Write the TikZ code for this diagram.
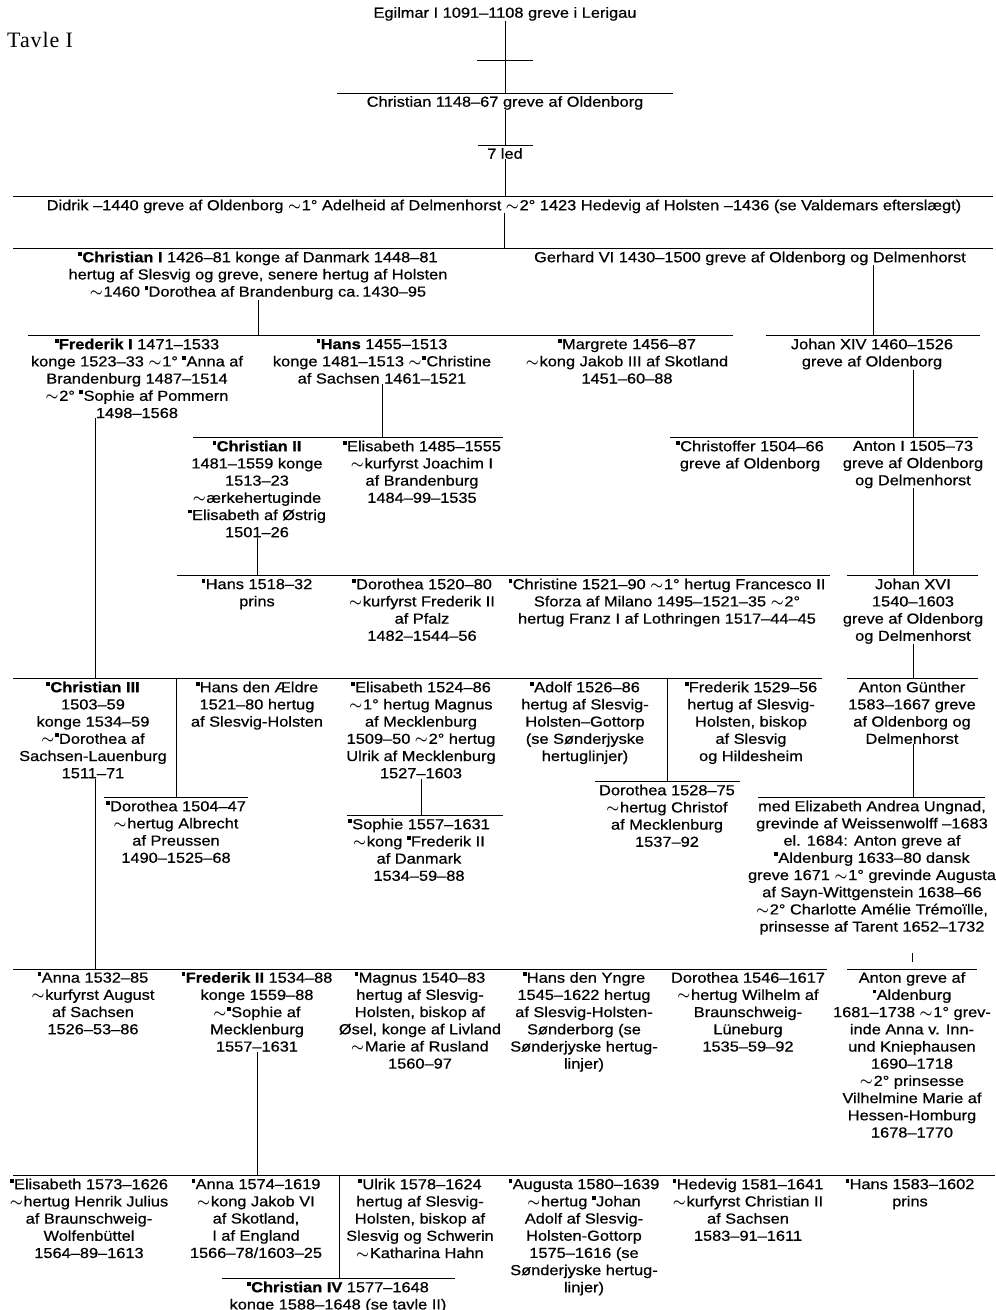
\documentclass[tikz,border=0pt]{standalone}
\usepackage{fontspec}
\setmainfont{Liberation Sans}[FakeStretch=1.13, UprightFeatures={FakeBold=0.6}, BoldFeatures={FakeBold=0.9}]
\newfontfamily\tavlefont{Liberation Serif}[LetterSpace=4]
\newcommand\mk{\rule[6.6pt]{3.8pt}{3.8pt}\hspace{0.3pt}}
\newcommand\ti{\ensuremath{\boldsymbol{\sim}}\hspace{0.8pt}}
\usepackage{amsmath}
\usepackage{bm}
\begin{document}
\begin{tikzpicture}[x=1pt,y=-1pt,
  person/.style={anchor=north,align=center,inner sep=0pt,font=\fontsize{14.5}{17.2}\selectfont},
  bar/.style={line width=0.9pt}]
\useasboundingbox (0,0) rectangle (996,1310);

\node[anchor=west,inner sep=0pt,font=\tavlefont\fontsize{22}{24}\selectfont] (tavle) at (7,40) {Tavle I};

% ---------- bars (coordinates) ----------
\coordinate (t60L) at (477,60);   \coordinate (t60R) at (533,60);
\coordinate (b93L) at (337,93);   \coordinate (b93R) at (673,93);
\coordinate (b145L) at (478,145); \coordinate (b145R) at (533,145);
\coordinate (b196L) at (13,196);  \coordinate (b196R) at (993,196);
\coordinate (b248L) at (13,248);  \coordinate (b248R) at (993,248);
\coordinate (b335aL) at (28,335); \coordinate (b335aR) at (733,335);
\coordinate (b335bL) at (766,335);\coordinate (b335bR) at (980,335);
\coordinate (b437aL) at (193,437);\coordinate (b437aR) at (503,437);
\coordinate (b437bL) at (670,437);\coordinate (b437bR) at (978,437);
\coordinate (b575aL) at (177,575);\coordinate (b575aR) at (830,575);
\coordinate (b575bL) at (847,575);\coordinate (b575bR) at (978,575);
\coordinate (b678aL) at (13,678); \coordinate (b678aR) at (822,678);
\coordinate (b678bL) at (847,678);\coordinate (b678bR) at (978,678);
\coordinate (b781L) at (595,781); \coordinate (b781R) at (740,781);
\coordinate (b797aL) at (104,797);\coordinate (b797aR) at (248,797);
\coordinate (b815L) at (347,815); \coordinate (b815R) at (503,815);
\coordinate (b797bL) at (758,797);\coordinate (b797bR) at (985,797);
\coordinate (b968aL) at (13,969); \coordinate (b968aR) at (827,969);
\coordinate (b968bL) at (847,969);\coordinate (b968bR) at (977,969);
\coordinate (b1175L) at (13,1175);\coordinate (b1175R) at (995,1175);
\coordinate (b1278L) at (222,1278);\coordinate (b1278R) at (455,1278);

\foreach \a/\b in {t60L/t60R,b93L/b93R,b145L/b145R,b196L/b196R,b248L/b248R,
  b335aL/b335aR,b335bL/b335bR,b437aL/b437aR,b437bL/b437bR,b575aL/b575aR,b575bL/b575bR,
  b678aL/b678aR,b678bL/b678bR,b781L/b781R,b797aL/b797aR,b815L/b815R,b797bL/b797bR,
  b968aL/b968aR,b968bL/b968bR,b1175L/b1175R,b1278L/b1278R}
  \draw[bar] (\a) -- (\b);

% ---------- people ----------
\node[person] (egil) at (505,7) {Egilmar I 1091–1108 greve i Lerigau};
\node[person] (chr0) at (505,96) {Christian 1148–67 greve af Oldenborg};
\node[person] (led) at (505,148) {7 led};
\node[person] (didrik) at (504,199.5) {Didrik –1440 greve af Oldenborg \ti1° Adelheid af Delmenhorst \ti2° 1423 Hedevig af Holsten –1436 (se Valdemars efterslægt)};

\node[person] (chr1) at (258,251.5) {\mk\textbf{Christian I} 1426–81 konge af Danmark 1448–81\\hertug af Slesvig og greve, senere hertug af Holsten\\\ti1460 \mk Dorothea af Brandenburg ca.\,1430–95};
\node[person] (gerhard) at (750,251.5) {Gerhard VI 1430–1500 greve af Oldenborg og Delmenhorst};

\node[person] (fred1) at (137,338.5) {\mk\textbf{Frederik I} 1471–1533\\konge 1523–33 \ti1° \mk Anna af\\Brandenburg 1487–1514\\\ti2° \mk Sophie af Pommern\\1498–1568};
\node[person] (hans) at (382,338.5) {\mk\textbf{Hans} 1455–1513\\konge 1481–1513 \ti\mk Christine\\af Sachsen 1461–1521};
\node[person] (margrete) at (627,338.5) {\mk Margrete 1456–87\\\ti kong Jakob III af Skotland\\1451–60–88};
\node[person] (johan14) at (872,338.5) {Johan XIV 1460–1526\\greve af Oldenborg};

\node[person] (chr2) at (257,440.5) {\mk\textbf{Christian II}\\1481–1559 konge\\1513–23\\\ti ærkehertuginde\\\mk Elisabeth af Østrig\\1501–26};
\node[person] (elis85) at (422,440.5) {\mk Elisabeth 1485–1555\\\ti kurfyrst Joachim I\\af Brandenburg\\1484–99–1535};
\node[person] (christoffer) at (750,440.5) {\mk Christoffer 1504–66\\greve af Oldenborg};
\node[person] (anton1) at (913,440.5) {Anton I 1505–73\\greve af Oldenborg\\og Delmenhorst};

\node[person] (hans18) at (257,578.5) {\mk Hans 1518–32\\prins};
\node[person] (doro20) at (422,578.5) {\mk Dorothea 1520–80\\\ti kurfyrst Frederik II\\af Pfalz\\1482–1544–56};
\node[person] (christine) at (667,578.5) {\mk Christine 1521–90 \ti1° hertug Francesco II\\Sforza af Milano 1495–1521–35 \ti2°\\hertug Franz I af Lothringen 1517–44–45};
\node[person] (johan16) at (913,578.5) {Johan XVI\\1540–1603\\greve af Oldenborg\\og Delmenhorst};

\node[person] (chr3) at (93,681.5) {\mk\textbf{Christian III}\\1503–59\\konge 1534–59\\\ti\mk Dorothea af\\Sachsen-Lauenburg\\1511–71};
\node[person] (hansae) at (257,681.5) {\mk Hans den Ældre\\1521–80 hertug\\af Slesvig-Holsten};
\node[person] (elis24) at (421,681.5) {\mk Elisabeth 1524–86\\\ti1° hertug Magnus\\af Mecklenburg\\1509–50 \ti2° hertug\\Ulrik af Mecklenburg\\1527–1603};
\node[person] (adolf) at (585,681.5) {\mk Adolf 1526–86\\hertug af Slesvig-\\Holsten–Gottorp\\(se Sønderjyske\\hertuglinjer)};
\node[person] (fred29) at (751,681.5) {\mk Frederik 1529–56\\hertug af Slesvig-\\Holsten, biskop\\af Slesvig\\og Hildesheim};
\node[person] (antong) at (912,681.5) {Anton Günther\\1583–1667 greve\\af Oldenborg og\\Delmenhorst};

\node[person] (doro28) at (667,784.5) {Dorothea 1528–75\\\ti hertug Christof\\af Mecklenburg\\1537–92};
\node[person] (doro04) at (176,800.5) {\mk Dorothea 1504–47\\\ti hertug Albrecht\\af Preussen\\1490–1525–68};
\node[person] (med) at (872,800.5) {med Elizabeth Andrea Ungnad,\\grevinde af Weissenwolff –1683\\el. 1684: Anton greve af\\\mk Aldenburg 1633–80 dansk\\greve 1671 \ti1° grevinde Augusta\\af Sayn-Wittgenstein 1638–66\\\ti2° Charlotte Amélie Trémoïlle,\\prinsesse af Tarent 1652–1732};
\node[person] (sophie) at (419,818.5) {\mk Sophie 1557–1631\\\ti kong \mk Frederik II\\af Danmark\\1534–59–88};

\node[person] (anna32) at (93,972) {\mk Anna 1532–85\\\ti kurfyrst August\\af Sachsen\\1526–53–86};
\node[person] (fred2) at (257,972) {\mk\textbf{Frederik II} 1534–88\\konge 1559–88\\\ti\mk Sophie af\\Mecklenburg\\1557–1631};
\node[person] (magnus) at (420,972) {\mk Magnus 1540–83\\hertug af Slesvig-\\Holsten, biskop af\\Øsel, konge af Livland\\\ti Marie af Rusland\\1560–97};
\node[person] (hansy) at (584,972) {\mk Hans den Yngre\\1545–1622 hertug\\af Slesvig-Holsten-\\Sønderborg (se\\Sønderjyske hertug-\\linjer)};
\node[person] (doro46) at (748,972) {Dorothea 1546–1617\\\ti hertug Wilhelm af\\Braunschweig-\\Lüneburg\\1535–59–92};
\node[person] (anton) at (912,972) {Anton greve af\\\mk Aldenburg\\1681–1738 \ti1° grev-\\inde Anna v. Inn-\\und Kniephausen\\1690–1718\\\ti2° prinsesse\\Vilhelmine Marie af\\Hessen-Homburg\\1678–1770};

\node[person] (elis73) at (89,1178.5) {\mk Elisabeth 1573–1626\\\ti hertug Henrik Julius\\af Braunschweig-\\Wolfenbüttel\\1564–89–1613};
\node[person] (anna74) at (256,1178.5) {\mk Anna 1574–1619\\\ti kong Jakob VI\\af Skotland,\\I af England\\1566–78/1603–25};
\node[person] (ulrik) at (420,1178.5) {\mk Ulrik 1578–1624\\hertug af Slesvig-\\Holsten, biskop af\\Slesvig og Schwerin\\\ti Katharina Hahn};
\node[person] (augusta) at (584,1178.5) {\mk Augusta 1580–1639\\\ti hertug \mk Johan\\Adolf af Slesvig-\\Holsten-Gottorp\\1575–1616 (se\\Sønderjyske hertug-\\linjer)};
\node[person] (hedevig) at (748,1178.5) {\mk Hedevig 1581–1641\\\ti kurfyrst Christian II\\af Sachsen\\1583–91–1611};
\node[person] (hans83) at (910,1178.5) {\mk Hans 1583–1602\\prins};

\node[person] (chr4) at (338,1281.5) {\mk\textbf{Christian IV} 1577–1648\\konge 1588–1648 (se tavle II)};

% ---------- connectors ----------
\coordinate (x95) at (95,0);
\coordinate (x176) at (176,0);
\coordinate (x339) at (339,0);
\coordinate (x667) at (667,0);
\coordinate (x873) at (873,0);
\coordinate (x913) at (913,0);
\coordinate (tickA) at (912,953);
\coordinate (tickB) at (912,962);

\draw[bar] (egil.south) -- (egil.south |- b93L);
\draw[bar] (chr0.south) -- (chr0.south |- b145L);
\draw[bar] (led.south) -- (led.south |- b196L);
\draw[bar] (didrik.south) -- (didrik.south |- b248L);
\draw[bar] (chr1.south) -- (chr1.south |- b335aL);
\draw[bar] (gerhard.south -| x873) -- (x873 |- b335bL);
\draw[bar] (hans.south) -- (hans.south |- b437aL);
\draw[bar] (johan14.south -| x913) -- (x913 |- b437bL);
\draw[bar] (chr2.south) -- (chr2.south |- b575aL);
\draw[bar] (anton1.south -| x913) -- (x913 |- b575bL);
\draw[bar] (fred1.south -| x95) -- (x95 |- b678aL);
\draw[bar] (johan16.south -| x913) -- (x913 |- b678bL);
\draw[bar] (x176 |- b678aL) -- (x176 |- b797aL);
\draw[bar] (x667 |- b678aL) -- (x667 |- b781L);
\draw[bar] (elis24.south) -- (elis24.south |- b815L);
\draw[bar] (antong.south -| x913) -- (x913 |- b797bL);
\draw[bar] (tickA) -- (tickB);
\draw[bar] (chr3.south -| x95) -- (x95 |- b968aL);
\draw[bar] (fred2.south) -- (fred2.south |- b1175L);
\draw[bar] (x339 |- b1175L) -- (x339 |- b1278L);
\end{tikzpicture}
\end{document}
